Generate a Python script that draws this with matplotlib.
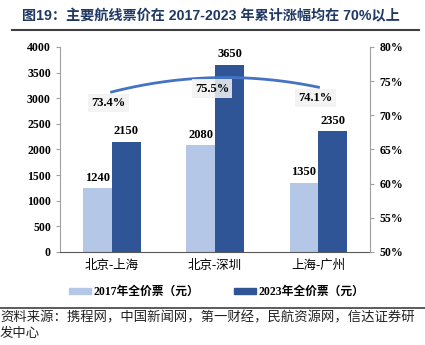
import numpy as np
import matplotlib.pyplot as plt
from matplotlib.patches import Patch

plt.rcParams['font.family'] = ['Liberation Serif', 'Noto Sans CJK SC']

routes = ['北京-上海', '北京-深圳', '上海-广州']
price_2017 = [1240, 2080, 1350]
price_2023 = [2150, 3650, 2350]
growth = [73.4, 75.5, 74.1]
growth_labels = ['73.4%', '75.5%', '74.1%']

c_light = '#B4C7E7'
c_dark = '#2F5597'
c_line = '#4472C4'

fig = plt.figure(figsize=(4.25, 3.45), dpi=100)
ax = fig.add_axes([0.141, 0.27, 0.73, 0.594])

x = np.arange(len(routes))
w = 0.28
ax.bar(x - w / 2, price_2017, w, color=c_light)
ax.bar(x + w / 2, price_2023, w, color=c_dark)
for i in range(len(routes)):
    ax.text(x[i] - w / 2, price_2017[i] + 90, str(price_2017[i]), ha='center', va='bottom',
            fontsize=9, fontweight='bold')
    ax.text(x[i] + w / 2, price_2023[i] + 90, str(price_2023[i]), ha='center', va='bottom',
            fontsize=9, fontweight='bold')

ax.set_xlim(-0.5, 2.5)
ax.set_ylim(0, 4000)
ax.set_yticks(range(0, 4001, 500))
ax.set_xticks(x)
ax.set_xticklabels(routes, fontsize=9)
ax.tick_params(axis='x', length=0, pad=6)
ax.tick_params(axis='y', labelsize=8.5, length=3, color='#A0A0A0')
for t in ax.get_yticklabels():
    t.set_fontweight('bold')
ax.spines['top'].set_visible(False)
ax.spines['right'].set_visible(False)
ax.spines['left'].set_color('#A0A0A0')
ax.spines['bottom'].set_color('#595959')

ax2 = ax.twinx()
# smooth curve through the three points
coef = np.polyfit(x, growth, 2)
xs = np.linspace(x[0], x[-1], 100)
ax2.plot(xs, np.polyval(coef, xs), color=c_line, lw=2)
ax2.set_ylim(50, 80)
ax2.set_yticks(range(50, 81, 5))
ax2.set_yticklabels([f'{v}%' for v in range(50, 81, 5)])
ax2.tick_params(axis='y', labelsize=8.5, length=3, color='#A0A0A0')
for t in ax2.get_yticklabels():
    t.set_fontweight('bold')
for s in ['top', 'left', 'bottom']:
    ax2.spines[s].set_visible(False)
ax2.spines['right'].set_color('#A0A0A0')
for i in range(len(routes)):
    ax2.text(x[i] - 0.03, growth[i] - 1.6, growth_labels[i], ha='center', va='center',
             fontsize=9, fontweight='bold',
             bbox=dict(boxstyle='square,pad=0.25', fc='#F2F2F2', ec='none', alpha=0.85))

handles = [Patch(color=c_light), Patch(color=c_dark)]
fig.legend(handles, ['2017年全价票（元）', '2023年全价票（元）'], loc='center',
           bbox_to_anchor=(0.51, 0.153), ncol=2, frameon=False,
           handlelength=1.9, handleheight=0.5, columnspacing=2.9, handletextpad=0.2,
           prop={'weight': 'bold', 'size': 8.5})

fig.text(0.052, 0.953, '图19：主要航线票价在 2017-2023 年累计涨幅均在 70%以上', fontsize=10.2,
         fontweight='bold', color='#1F3864', va='center',
         family=['Liberation Sans', 'Noto Sans CJK SC'])
fig.add_artist(plt.Line2D([0.028, 0.985], [0.912, 0.912], color='#404040', lw=1.5))
fig.add_artist(plt.Line2D([0.0, 1.0], [0.107, 0.107], color='#404040', lw=1.2))
fig.text(0.0, 0.08, '资料来源：携程网，中国新闻网，第一财经，民航资源网，信达证券研', fontsize=9.6,
         style='italic', va='center', color='#222222', family=['Noto Sans CJK SC'])
fig.text(0.0, 0.035, '发中心', fontsize=9.6, style='italic', va='center', color='#222222',
         family=['Noto Sans CJK SC'])

fig.savefig('out.png', dpi=100)
